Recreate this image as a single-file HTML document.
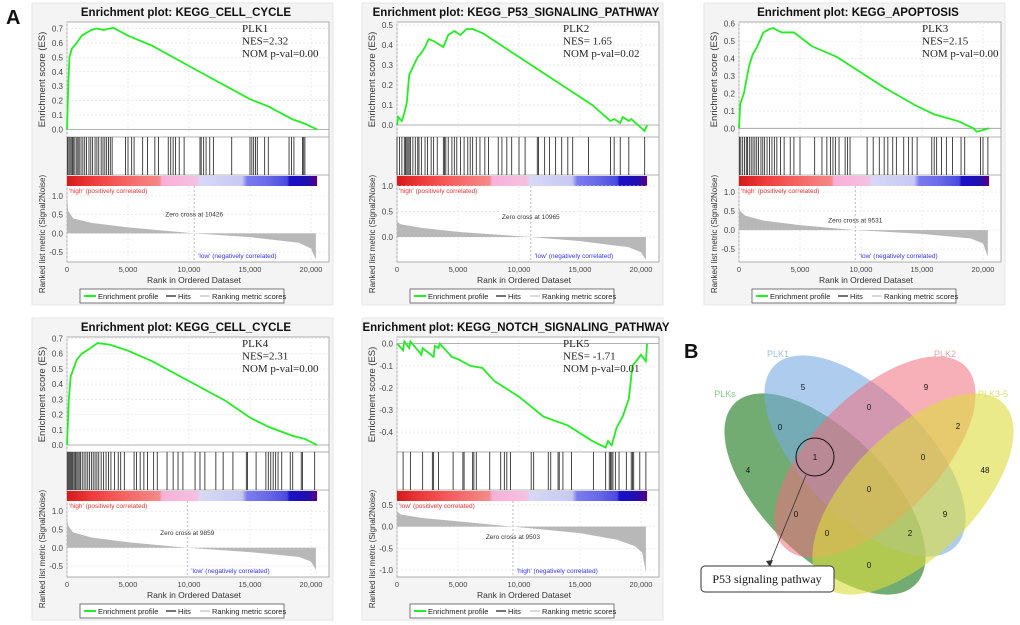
<!DOCTYPE html>
<html><head><meta charset="utf-8"><style>
body{margin:0;background:#fff;}
svg{display:block;font-family:"Liberation Sans",sans-serif;}
</style></head><body>
<svg id="fig" width="1020" height="625" viewBox="0 0 1020 625"></svg>
<script>
// ---- data ----
const titles=["Enrichment plot: KEGG_CELL_CYCLE","Enrichment plot: KEGG_P53_SIGNALING_PATHWAY","Enrichment plot: KEGG_APOPTOSIS","Enrichment plot: KEGG_CELL_CYCLE","Enrichment plot: KEGG_NOTCH_SIGNALING_PATHWAY"];
const geneNames=["PLK1","PLK2","PLK3","PLK4","PLK5"];
const nesLabels=["NES=2.32","NES= 1.65","NES=2.15","NES=2.31","NES= -1.71"];
const pvalLabels=["NOM p-val=0.00","NOM p-val=0.02","NOM p-val=0.00","NOM p-val=0.00","NOM p-val=0.01"];
const zeroCross=[10426,10965,9531,9859,9503];
const esTicks1=[0,0.1,0.2,0.3,0.4,0.5,0.6,0.7];
const esTicks2=[0,0.1,0.2,0.3,0.4,0.5];
const esTicks3=[0,0.1,0.2,0.3,0.4,0.5,0.6];
const esTicks5=[0,-0.1,-0.2,-0.3,-0.4];
const mTicks1=[1.0,0.5,0.0,-0.5];
const mTicks5=[0.5,0.0,-0.5,-1.0];
const xTicks=[0,5000,10000,15000,20000];
const es1=[[0,0],[100,0.3],[200,0.5],[400,0.56],[800,0.6],[1200,0.65],[2000,0.69],[2400,0.70],[3000,0.69],[3800,0.705],[5000,0.65],[7000,0.58],[10000,0.44],[15000,0.21],[16500,0.16],[18500,0.07],[19500,0.04],[20500,0.0]];
const es2=[[0,0],[100,0.04],[400,0.02],[600,0.06],[800,0.11],[1000,0.25],[1300,0.29],[1700,0.34],[2000,0.36],[2300,0.39],[2600,0.43],[3000,0.42],[3800,0.39],[4200,0.45],[4700,0.47],[5200,0.45],[5700,0.48],[6200,0.48],[7000,0.46],[8000,0.42],[10000,0.34],[12000,0.26],[14000,0.18],[16000,0.10],[17500,0.02],[17800,0.03],[18300,0.01],[18500,0.04],[19000,0.02],[19200,0.03],[20300,-0.03],[20500,0.0]];
const es3=[[0,0],[100,0.14],[400,0.2],[800,0.35],[1100,0.42],[1500,0.47],[2000,0.55],[2500,0.57],[2800,0.575],[3500,0.55],[4500,0.55],[6000,0.47],[8000,0.41],[10000,0.32],[12000,0.23],[14500,0.13],[16000,0.08],[18000,0.04],[19200,0.0],[19500,-0.02],[20000,-0.01],[20500,0.0]];
const es4=[[0,0],[150,0.3],[300,0.45],[800,0.56],[1200,0.6],[1800,0.63],[2500,0.67],[3500,0.66],[5000,0.62],[7000,0.55],[10000,0.42],[13000,0.29],[15000,0.18],[16500,0.12],[18500,0.06],[19500,0.04],[20500,0.0]];
const es5=[[0,0],[500,-0.03],[600,0.01],[1000,-0.02],[1100,0.01],[2000,-0.05],[2100,-0.02],[3000,-0.06],[3100,-0.01],[3400,-0.02],[3500,0.0],[4500,-0.06],[5000,-0.07],[6000,-0.1],[7000,-0.11],[8000,-0.17],[10000,-0.24],[12000,-0.33],[14000,-0.37],[16000,-0.44],[17100,-0.47],[17300,-0.44],[17600,-0.46],[18000,-0.38],[18500,-0.33],[19000,-0.25],[19300,-0.1],[19600,-0.08],[20000,-0.05],[20400,-0.08],[20500,0.0]];
const hits1=[50,150,250,350,450,550,650,800,900,1000,1150,1300,1450,1600,1800,1950,2100,2300,2450,2600,2800,2950,3100,3250,3400,3550,3700,4800,5000,5300,5500,6200,6600,7200,7500,8300,8500,8700,8900,9200,9600,10900,11000,11200,11400,11700,12000,13500,15000,15150,15300,15450,15600,16200,16500,18200,18400,18600,19300,19400,19500];
const hits2=[0,200,400,600,700,800,900,1000,1100,1300,1500,1700,1800,2000,2300,2500,2800,3000,3300,3800,3900,4000,4200,4500,4700,4900,5200,5500,5800,6000,6200,6500,6800,7200,7500,8300,8600,9000,9400,10000,10500,11500,11600,12100,12500,13000,13500,14000,14400,15700,17500,17800,18300,19000,20300];
const hits3=[50,150,300,450,600,700,850,1000,1150,1300,1450,1600,1800,1950,2100,2300,2500,2700,2900,3100,3400,3700,4200,4500,5000,6200,6800,7200,7500,7700,7900,8200,8700,8900,9100,10500,11000,11500,11900,12200,12600,12900,13500,13900,14200,14600,15800,16000,16200,16600,17000,17500,18200,18500,19800,20000,20400];
const hits4=[30,100,180,260,340,420,500,600,700,800,900,1000,1100,1250,1400,1550,1700,1850,2000,2150,2300,2450,2600,2800,3000,3200,3400,3600,3900,4200,4400,4700,5500,5700,6000,6300,6600,7100,7400,8200,8700,9100,9500,10500,10900,11300,12200,12800,13600,14700,14800,15500,16300,16500,16700,16900,17100,17300,17600,18300,18500,19200,19300,20300];
const hits5=[500,1100,2100,2900,3000,3400,4600,5400,5500,6200,6300,6500,7600,8500,8800,9000,9300,11000,11200,12400,12600,13200,13300,13600,14300,16100,17100,17400,17500,17600,17700,17900,18200,18800,19200,19300,19400,19900,20400];
const metric1=[[0,1.0],[100,0.6],[500,0.4],[2000,0.28],[5000,0.16],[10426,0],[15000,-0.1],[19000,-0.25],[20000,-0.4],[20400,-0.7]];
const metric2=[[0,0.3],[300,0.25],[2000,0.18],[5000,0.1],[10965,0],[15000,-0.08],[19000,-0.2],[20000,-0.3],[20400,-0.45]];
const metric3=[[0,0.6],[100,0.5],[500,0.38],[2000,0.25],[5000,0.13],[9531,0],[15000,-0.1],[19000,-0.22],[20000,-0.35],[20400,-0.7]];
const metric4=[[0,0.8],[100,0.6],[500,0.42],[2000,0.28],[5000,0.15],[9859,0],[15000,-0.12],[19000,-0.25],[20000,-0.38],[20400,-0.6]];
const metric5=[[0,0.35],[300,0.28],[2000,0.2],[5000,0.12],[9503,0],[15000,-0.15],[18000,-0.3],[19500,-0.45],[20100,-0.6],[20400,-1.05]];

const panels=[
 {ox:0,oy:0,es:es1,hits:hits1,metric:metric1,esD:[0.745,-0.052],mD:[1.26,-0.76],esT:esTicks1,mT:mTicks1,hi:"'high' (positively correlated)",lo:"'low' (negatively correlated)",hiC:"#e33",loC:"#33f",zcY:0.45},
 {ox:330,oy:0,es:es2,hits:hits2,metric:metric2,esD:[0.515,-0.06],mD:[1.0,-0.49],esT:esTicks2,mT:[1.0,0.5,0.0],hi:"'high' (positively correlated)",lo:"'low' (negatively correlated)",hiC:"#e33",loC:"#33f",zcY:0.35},
 {ox:672,oy:0,es:es3,hits:hits3,metric:metric3,esD:[0.61,-0.05],mD:[1.16,-0.84],esT:esTicks3,mT:mTicks1,hi:"'high' (positively correlated)",lo:"'low' (negatively correlated)",hiC:"#e33",loC:"#33f",zcY:0.2},
 {ox:0,oy:315,es:es4,hits:hits4,metric:metric4,esD:[0.71,-0.046],mD:[1.28,-0.8],esT:esTicks1,mT:mTicks1,hi:"'high' (positively correlated)",lo:"'low' (negatively correlated)",hiC:"#e33",loC:"#33f",zcY:0.35},
 {ox:330,oy:315,es:es5,hits:hits5,metric:metric5,esD:[0.03,-0.49],mD:[0.59,-1.16],esT:esTicks5,mT:mTicks5,hi:"'low' (positively correlated)",lo:"'high' (negatively correlated)",hiC:"#e33",loC:"#33f",zcY:-0.28}
];
const NS="http://www.w3.org/2000/svg";
const fig=document.getElementById('fig');
function mk(tag,attrs,parent,text){const e=document.createElementNS(NS,tag);for(const k in attrs)e.setAttribute(k,attrs[k]);if(text!==undefined)e.textContent=text;(parent||fig).appendChild(e);return e;}

// defs gradient for color bar
const defs=mk('defs',{});
const grad=mk('linearGradient',{id:'cb',x1:0,x2:1,y1:0,y2:0},defs);
[[0,'#d41a1a'],[0.1,'#ee3b3b'],[0.2,'#f55a5a'],[0.37,'#f58a8a'],[0.38,'#f8b0d8'],[0.52,'#f6c0e0'],[0.53,'#d8d8f6'],[0.7,'#c8c8f4'],[0.72,'#7b7bf0'],[0.8,'#6a6ae8'],[0.88,'#4a4ae0'],[0.89,'#1a10c8'],[0.96,'#2010b0'],[1,'#5a0080']].forEach(s=>mk('stop',{offset:s[0],'stop-color':s[1]},grad));

mk('text',{x:6,y:24,'font-size':20,'font-weight':'bold',fill:'#111',},fig,'A');

panels.forEach((p,i)=>{
  const g=mk('g',{});
  
  
  const L=67+p.ox, R=329+p.ox, o=p.oy;
  const esTop=22+o, esBot=137+o, hitBot=175+o, cbT=176+o, cbB=186+o, mTop=186+o, mBot=262+o;
  const X=v=>L+(v/20000)*244;
  const YE=v=>esTop+(p.esD[0]-v)/(p.esD[0]-p.esD[1])*(esBot-esTop);
  const YM=v=>mTop+(p.mD[0]-v)/(p.mD[0]-p.mD[1])*(mBot-mTop);
  mk('rect',{x:32+p.ox,y:3+o,width:301,height:302,fill:'#f4f4f4',stroke:'#e6e6e6'},g);
  mk('rect',{x:L,y:esTop,width:R-L,height:mBot-esTop,fill:'#fff',stroke:'#999','stroke-width':0.8},g);
  const t=mk('text',{x:(L+R)/2-12,y:16+o,'font-size':11.5,'font-weight':'bold','text-anchor':'middle',fill:'#111'},g,titles[i]);
  
  
  // grid + es ticks
  p.esT.forEach(v=>{
    mk('line',{x1:L,x2:R,y1:YE(v),y2:YE(v),stroke:v===0?'#999':'#e4e4e4','stroke-dasharray':v===0?'':'2,2','stroke-width':v===0?0.8:0.7},g);
    mk('text',{x:L-4,y:YE(v)+3,'font-size':8,'text-anchor':'end',fill:'#444'},g,v.toFixed(1));
  });
  xTicks.forEach(v=>{
    mk('line',{x1:X(v),x2:X(v),y1:esTop,y2:esBot,stroke:'#e4e4e4','stroke-dasharray':'2,2','stroke-width':0.7},g);
    mk('line',{x1:X(v),x2:X(v),y1:mTop,y2:mBot,stroke:'#e4e4e4','stroke-dasharray':'2,2','stroke-width':0.7},g);
    mk('text',{x:X(v),y:272+o,'font-size':7.5,'text-anchor':'middle',fill:'#444'},g,v.toLocaleString('en-US'));
  });
  mk('line',{x1:L,x2:R,y1:esBot,y2:esBot,stroke:'#999','stroke-width':0.8},g);
  mk('line',{x1:L,x2:R,y1:hitBot,y2:hitBot,stroke:'#999','stroke-width':0.8},g);
  // ES label
  mk('text',{transform:`translate(${45+p.ox},${(esTop+esBot)/2}) rotate(-90)`,'font-size':9.5,'text-anchor':'middle',fill:'#333'},g,'Enrichment score (ES)');
  mk('text',{transform:`translate(${45+p.ox},${(mTop+mBot)/2+10}) rotate(-90)`,'font-size':8,'text-anchor':'middle',fill:'#333'},g,'Ranked list metric (Signal2Noise)');
  // hits
  p.hits.forEach(h=>{const ln=mk('line',{x1:X(h),x2:X(h),y1:esBot,y2:hitBot,stroke:'#333','stroke-width':0.9},g);});
  mk('rect',{x:L,y:cbT,width:X(20500)-L,height:cbB-cbT,fill:'url(#cb)'},g);
  // metric
  p.mT.forEach(v=>{
    mk('line',{x1:L,x2:R,y1:YM(v),y2:YM(v),stroke:'#e4e4e4','stroke-dasharray':'2,2','stroke-width':0.7},g);
    mk('text',{x:L-4,y:YM(v)+3,'font-size':8,'text-anchor':'end',fill:'#444'},g,v.toFixed(1));
  });
  let d=`M${X(0)},${YM(0)}`;p.metric.forEach(q=>d+=` L${X(q[0])},${YM(q[1])}`);d+=` L${X(20400)},${YM(0)} Z`;
  const ma=mk('path',{d,fill:'#b8b8b8',stroke:'none'},g);
  
  
  const zx=X(zeroCross[i]);
  mk('line',{x1:zx,x2:zx,y1:mTop,y2:mBot,stroke:'#bbb','stroke-dasharray':'2,2'},g);
  mk('text',{x:zx,y:YM(p.zcY),'font-size':6.5,'text-anchor':'middle',fill:'#333'},g,'Zero cross at '+zeroCross[i]);
  mk('text',{x:L+2,y:mTop+7,'font-size':6.5,fill:p.hiC},g,p.hi);
  mk('text',{x:zx+4,y:mBot-4,'font-size':6.5,fill:p.loC},g,p.lo);
  // ES curve
  let pts=p.es.map(q=>X(q[0])+','+YE(q[1])).join(' ');
  const c=mk('polyline',{points:pts,fill:'none',stroke:'#22ee22','stroke-width':1.8},g);
  
  
  // annotation
  [geneNames[i],nesLabels[i],pvalLabels[i]].forEach((s,k)=>mk('text',{x:242+p.ox-(i==1||i==4?9:0)+(i==2?8:0),y:32+o+k*12.5,'font-size':11,'font-family':'Liberation Serif,serif',fill:'#222'},g,s));
  mk('text',{x:(L+R)/2-4,y:283+o,'font-size':8.5,'text-anchor':'middle',fill:'#333'},g,'Rank in Ordered Dataset');
  // legend
  const lg=mk('g',{},g);
  
  
  const lx=80+p.ox, ly=289+o;
  mk('rect',{x:lx,y:ly,width:204,height:14,fill:'#fff',stroke:'#555','stroke-width':0.8},lg);
  mk('line',{x1:lx+4,x2:lx+16,y1:ly+7,y2:ly+7,stroke:'#22ee22','stroke-width':2},lg);
  mk('text',{x:lx+18,y:ly+10,'font-size':7.5,fill:'#222'},lg,'Enrichment profile');
  mk('line',{x1:lx+86,x2:lx+96,y1:ly+7,y2:ly+7,stroke:'#444','stroke-width':1.5},lg);
  mk('text',{x:lx+98,y:ly+10,'font-size':7.5,fill:'#222'},lg,'Hits');
  mk('line',{x1:lx+120,x2:lx+130,y1:ly+7,y2:ly+7,stroke:'#ccc','stroke-width':1.5},lg);
  mk('text',{x:lx+132,y:ly+10,'font-size':7.5,fill:'#222'},lg,'Ranking metric scores');
});

// ---- Venn ----
const vennSets=["PLKs","PLK1","PLK2","PLK3-5"];
const vennCounts=[5,9,0,0,2,1,0,4,48,0,0,9,0,2,0];
const vg=mk('g',{});


mk('text',{x:684,y:358,'font-size':20,'font-weight':'bold',fill:'#111'},vg,'B');
const ells=[[825,494,45,'rgba(60,140,60,0.72)'],[865,456,45,'rgba(120,170,225,0.6)'],[875,457,-45,'rgba(240,110,125,0.55)'],[913,494,-45,'rgba(220,220,60,0.6)']];
ells.forEach((e,k)=>{const el=mk('ellipse',{cx:e[0],cy:e[1],rx:128,ry:62,transform:`rotate(${e[2]} ${e[0]} ${e[1]})`,fill:e[3]},vg);});
const lblPos=[[725,397,'#8cc88c'],[778,357,'#9cc0e4'],[945,357,'#f0a0a8'],[993,397,'#e0e070']];
vennSets.forEach((s,k)=>mk('text',{x:lblPos[k][0],y:lblPos[k][1],'font-size':9,fill:lblPos[k][2],'text-anchor':'middle'},vg,s));
const cntPos=[[803,390],[926,390],[869,410],[780,430],[958,429],[815,460],[923,460],[748,473],[985,473],[869,492],[796,517],[945,517],[827,536],[910,536],[869,568]];
vennCounts.forEach((c,k)=>{const t=mk('text',{x:cntPos[k][0],y:cntPos[k][1],'font-size':8,'text-anchor':'middle',fill:'#111'},vg,String(c));});
mk('circle',{cx:815,cy:457,r:19,fill:'none',stroke:'#111','stroke-width':1},vg);
mk('line',{x1:806,y1:475,x2:770,y2:563,stroke:'#333','stroke-width':0.8},vg);
mk('path',{d:'M766,561 L770,567 L773,560 Z',fill:'#333'},vg);
const cb=mk('rect',{x:701,y:566,width:133,height:26,rx:4,fill:'#fff',stroke:'#333','stroke-width':1},vg);


mk('text',{x:767,y:583,'font-size':12,'text-anchor':'middle','font-family':'Liberation Serif,serif',fill:'#111'},vg,'P53 signaling pathway');
</script>
</body></html>
